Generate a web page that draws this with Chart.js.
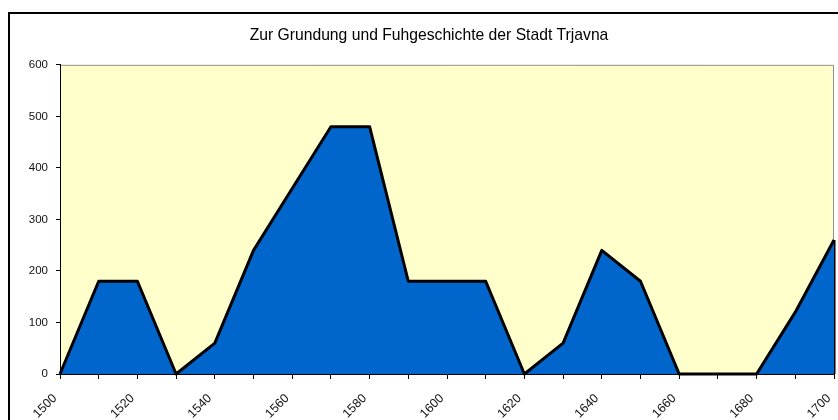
<!DOCTYPE html>
<html>
<head>
<meta charset="utf-8">
<script src="https://cdn.jsdelivr.net/npm/chart.js@4/dist/chart.umd.min.js"></script>
<style>
    html, body { margin: 0; padding: 0; background: #fff; overflow: hidden; }
    #chart { position: absolute; left: 0; top: 0; }
</style>
</head>
<body>
<canvas id="chart" width="858" height="420"></canvas>
<script>
// Jahre und Werte
var jahre = [1500, 1510, 1520, 1530, 1540, 1550, 1560, 1570, 1580, 1590, 1600,
             1610, 1620, 1630, 1640, 1650, 1660, 1670, 1680, 1690, 1700];
var werte = [0, 180, 180, 0, 60, 240, 360, 480, 480, 180, 180,
             180, 0, 60, 240, 180, 0, 0, 0, 120, 260];
var yTicks = [0, 100, 200, 300, 400, 500, 600];
var titel = 'Zur Grundung und Fuhgeschichte der Stadt Trjavna';

var punkte = jahre.map(function (j, i) { return { x: j, y: werte[i] }; });
var letzte = jahre.length - 1;
// senkrechte Kante am rechten Rand
var kante = [{ x: jahre[letzte], y: 0 }, { x: jahre[letzte], y: werte[letzte] }];

var schrift = '"Liberation Sans", Arial, sans-serif';

const hintergrund = {
    id: 'hintergrund',
    beforeDraw: function (chart) {
        var ctx = chart.ctx, a = chart.chartArea;
        ctx.save();
        ctx.strokeStyle = '#000';
        ctx.lineWidth = 2;
        ctx.strokeRect(9, 13, 840, 500);
        ctx.fillStyle = '#FFFFCC';
        ctx.fillRect(a.left, a.top, a.right - a.left, a.bottom - a.top);
        ctx.strokeStyle = '#909090';
        ctx.lineWidth = 1;
        ctx.beginPath();
        ctx.moveTo(a.left, a.top + 0.5);
        ctx.lineTo(a.right - 0.5, a.top + 0.5);
        ctx.lineTo(a.right - 0.5, a.bottom);
        ctx.stroke();
        ctx.restore();
    }
};

var ctx = document.getElementById('chart').getContext('2d');
var chart = new Chart(ctx, {
    type: 'line',
    data: {
        datasets: [{
            data: punkte,
            fill: 'origin',
            backgroundColor: '#0066CC',
            borderColor: '#000',
            borderWidth: 3,
            borderJoinStyle: 'round',
            pointRadius: 0,
            tension: 0,
            clip: 6
        }, {
            data: kante,
            fill: false,
            borderColor: '#000',
            borderWidth: 3,
            pointRadius: 0,
            clip: 6
        }]
    },
    options: {
        responsive: false,
        animation: false,
        layout: { padding: 0 },
        plugins: {
            legend: { display: false },
            tooltip: { enabled: false },
            title: {
                display: true,
                text: titel,
                color: '#000',
                font: { family: schrift, size: 15.7, weight: 'normal' },
                padding: { top: 26, bottom: 20 }
            }
        },
        scales: {
            x: {
                type: 'linear',
                min: jahre[0],
                max: jahre[letzte],
                border: { color: '#000', width: 1 },
                grid: { drawOnChartArea: false, tickLength: 5, color: '#000' },
                ticks: {
                    stepSize: 10,
                    autoSkip: false,
                    minRotation: 45,
                    maxRotation: 45,
                    padding: 12,
                    labelOffset: -5,
                    color: '#111',
                    font: { family: schrift, size: 12.5 },
                    callback: function (v) { return v % 20 === 0 ? String(v) : ''; }
                },
                afterFit: function (s) { s.height = 46; }
            },
            y: {
                min: yTicks[0],
                max: yTicks[yTicks.length - 1],
                border: { color: '#000', width: 1 },
                grid: { drawOnChartArea: false, tickLength: 4, color: '#000' },
                ticks: {
                    stepSize: 100,
                    padding: 8,
                    color: '#111',
                    font: { family: schrift, size: 11.5 }
                },
                afterFit: function (s) { s.width = 60; }
            },
            rechts: {
                position: 'right',
                display: true,
                grid: { display: false },
                border: { display: false },
                ticks: { display: false },
                afterFit: function (s) { s.width = 24; }
            }
        }
    },
    plugins: [hintergrund]
});
</script>
</body>
</html>
